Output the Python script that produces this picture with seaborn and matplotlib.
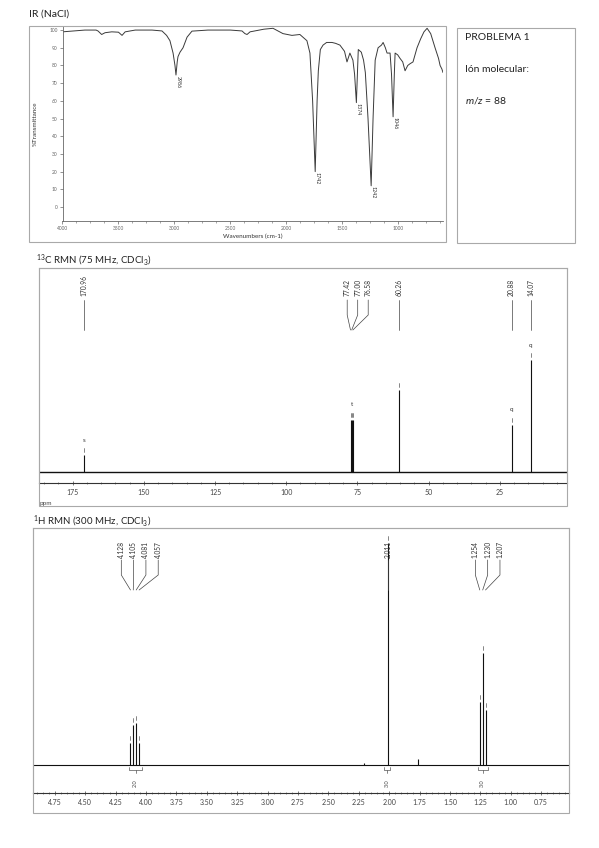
import matplotlib
matplotlib.use("Agg")
import numpy as np
import pandas as pd
import seaborn as sns
import matplotlib.pyplot as plt
from matplotlib.patches import Rectangle
from matplotlib.ticker import MultipleLocator, FormatStrFormatter

# ---------------- data ----------------
# IR spectrum (wavenumber in cm-1, % transmittance)
ir_wavenumber = [4000, 3900, 3800, 3700, 3683, 3650, 3620, 3560, 3500, 3468, 3440, 3350,
                 3200, 3111, 3070, 3040, 3012, 2995, 2986, 2975, 2968, 2950, 2923, 2887,
                 2843, 2700, 2500, 2396, 2370, 2351, 2324, 2200, 2119, 2030, 1950, 1879,
                 1816, 1789, 1765, 1742, 1725, 1714, 1696, 1672, 1640, 1592, 1560, 1521,
                 1480, 1458, 1432, 1405, 1390, 1374, 1365, 1357, 1330, 1310, 1294, 1270,
                 1242, 1225, 1206, 1180, 1150, 1135, 1115, 1100, 1073, 1060, 1046, 1035,
                 1028, 1005, 984, 960, 939, 915, 894, 868, 832, 800, 770, 742, 710, 671,
                 640, 626, 610, 600]
ir_transmittance = [99, 99.5, 100, 100, 99.5, 97.5, 98.5, 99, 98.8, 97, 99, 100,
                    100, 99.5, 97, 94, 87, 80, 74.6, 82, 85, 87.5, 90, 96,
                    99.4, 100, 100, 99.5, 98, 97.5, 99, 100.5, 101, 98, 97, 97.5,
                    94, 87, 60, 20, 60, 77, 89, 91.5, 93, 93, 92.5, 91.5,
                    88, 82, 87, 83, 75, 59, 75, 89, 87.5, 83, 76, 50,
                    12, 50, 83, 90, 91.5, 93, 90, 87, 87, 75, 51, 75,
                    87, 86, 84, 82, 77, 80, 81, 82, 90, 95, 99, 101, 98, 90,
                    84, 80, 78, 76]
ir_peak_wn = [2986, 1742, 1374, 1242, 1046]
ir_peak_t = [74.6, 20, 59, 12, 51]

# 13C NMR sticks (ppm, height)
c13_ppm = [170.96, 77.42, 77.00, 76.58, 60.26, 20.88, 14.07]
c13_height = [17, 52, 52, 52, 82, 47, 112]
c13_groups = [[0], [1, 2, 3], [4], [5], [6]]
c13_mult = ["s", "t", "", "q", "q"]

# 1H NMR sticks (ppm, height)
h1_ppm = [4.128, 4.105, 4.081, 4.057, 2.210, 2.011, 1.760, 1.254, 1.230, 1.207]
h1_height = [22, 40, 42, 22, 2, 222, 6, 63, 112, 55]
h1_groups = [[0, 1, 2, 3], [5], [7, 8, 9]]
h1_int_from = [4.14, 2.04, 1.27]
h1_int_to = [4.03, 1.99, 1.19]
h1_int_value = ["2.0", "3.0", "3.0"]

# ---------------- style ----------------
sns.set_style("white")
plt.rcParams["font.family"] = ["Lato", "DejaVu Sans"]
plt.rcParams["mathtext.fontset"] = "custom"
plt.rcParams["mathtext.rm"] = "Lato"
plt.rcParams["mathtext.it"] = "Lato:italic"

W, H = 599, 848
fig = plt.figure(figsize=(W / 100, H / 100), dpi=100)
fig.patch.set_facecolor("white")


def axes_px(x0, y0, x1, y1):
    return fig.add_axes([x0 / W, 1 - y1 / H, (x1 - x0) / W, (y1 - y0) / H])


def box_px(x0, y0, x1, y1, color="#a9a9a9"):
    fig.add_artist(Rectangle((x0 / W, 1 - y1 / H), (x1 - x0) / W, (y1 - y0) / H,
                             transform=fig.transFigure, fill=False, ec=color, lw=0.8))


def text_px(x, y, s, **kw):
    fig.text(x / W, 1 - y / H, s, **kw)


# ---------------- IR ----------------
box_px(29, 26, 446, 242)
text_px(29, 14, "IR (NaCl)", fontsize=7.5, va="center", ha="left", color="#222")
ax = axes_px(62.5, 26, 443, 221)
ir = pd.DataFrame({"wn": ir_wavenumber, "T": ir_transmittance})
sns.lineplot(data=ir, x="wn", y="T", ax=ax, color="#3a3a3a", lw=0.7, estimator=None)
ax.set_xlim(4000, 600)
ax.set_ylim(-7.9, 102.3)
ax.set_facecolor("white")
for s in ["top", "right"]:
    ax.spines[s].set_visible(False)
for s in ["left", "bottom"]:
    ax.spines[s].set_color("#666")
    ax.spines[s].set_linewidth(0.6)
ax.xaxis.set_minor_locator(MultipleLocator(125))
ax.yaxis.set_major_locator(MultipleLocator(10))
ax.set_xticks([4000, 3500, 3000, 2500, 2000, 1500, 1000])
ax.tick_params(axis="both", which="major", length=2, width=0.5, labelsize=3.5,
               colors="#666", pad=1.5, bottom=True, left=True)
ax.tick_params(axis="x", which="minor", length=1.2, width=0.4, colors="#666", bottom=True)
ax.set_xlabel("Wavenumbers (cm-1)", fontsize=4.5, labelpad=2, color="#333")
ax.set_ylabel("%Transmittance", fontsize=4.5, labelpad=8, color="#333")
for wn, t in zip(ir_peak_wn, ir_peak_t):
    ax.annotate(str(wn), (wn, t), xytext=(1.5, -0.5), textcoords="offset points",
                rotation=270, ha="center", va="top", fontsize=3.8, color="#333")

# ---------------- problem box ----------------
box_px(457, 28, 575, 243)
text_px(465, 38, "PROBLEMA 1", fontsize=7.5, va="center", ha="left", color="#222")
text_px(465, 70, "Ión molecular:", fontsize=7.5, va="center", ha="left", color="#222")
text_px(465, 100, r"$m/z$ = 88", fontsize=7.5, va="center", ha="left", color="#222")


# ---------------- NMR helper ----------------
def nmr_axes(ax, xlim, ylim, major, minor, fmt):
    ax.set_xlim(*xlim)
    ax.set_ylim(*ylim)
    ax.set_yticks([])
    for s in ["top", "left", "right"]:
        ax.spines[s].set_color("#bdbdbd")
        ax.spines[s].set_linewidth(0.8)
    ax.spines["bottom"].set_color("#333")
    ax.spines["bottom"].set_linewidth(0.8)
    ax.xaxis.set_major_locator(MultipleLocator(major))
    ax.xaxis.set_minor_locator(MultipleLocator(minor))
    ax.xaxis.set_major_formatter(FormatStrFormatter(fmt))
    ax.tick_params(axis="x", which="major", length=3, width=0.5, labelsize=5,
                   colors="#444", pad=3, bottom=True, direction="inout")
    ax.tick_params(axis="x", which="minor", length=2, width=0.4, colors="#444",
                   bottom=True, direction="inout")


def nmr_labels(ax, ppm, height, groups, fmt, width_px, y_text, y_top, y_knee, y_bot,
               spread_px, shift_px, fontsize):
    xl = ax.get_xlim()
    ppm_per_px = (xl[0] - xl[1]) / width_px
    for g in groups:
        center = np.mean([ppm[i] for i in g])
        n = len(g)
        for k, i in enumerate(g):
            if n > 1:
                lx = center - ((k - (n - 1) / 2) * spread_px + shift_px) * ppm_per_px
            else:
                lx = ppm[i]
            ax.text(lx, y_text, fmt.format(ppm[i]), rotation=90, ha="center", va="bottom",
                    fontsize=fontsize, color="#333")
            ax.plot([lx, lx, ppm[i]], [y_top, y_knee, y_bot], color="#444", lw=0.5)
            ax.plot([ppm[i], ppm[i]], [height[i] + 3, height[i] + 7], color="#555", lw=0.5)


# ---------------- 13C ----------------
box_px(39, 268, 567, 506)
text_px(36, 260, r"$^{13}$C RMN (75 MHz, CDCl$_3$)", fontsize=7, va="center",
        ha="left", color="#222")
ax = axes_px(39, 268, 567, 483)
nmr_axes(ax, (186.8, 1.4), (-11, 204), 25, 5, "%d")
ax.axhline(0, color="#111", lw=1.0)
ax.vlines(c13_ppm, 0, c13_height, color="#111", lw=0.8)
nmr_labels(ax, c13_ppm, c13_height, c13_groups, "{:.2f}", 528, 176, 172, 157, 142,
           10.5, 6, 4.8)
for g, m in zip(c13_groups, c13_mult):
    top = max(c13_height[i] for i in g)
    ax.text(np.mean([c13_ppm[i] for i in g]), top + 15, m, ha="center", va="center",
            fontsize=4.5, color="#333")
text_px(40, 504, "ppm", fontsize=4.5, va="center", ha="left", color="#444")

# ---------------- 1H ----------------
box_px(33, 528, 569, 813)
text_px(33, 521, r"$^{1}$H RMN (300 MHz, CDCl$_3$)", fontsize=7, va="center",
        ha="left", color="#222")
ax = axes_px(33, 528, 569, 793)
nmr_axes(ax, (4.93, 0.52), (-28, 237), 0.25, 0.05, "%.2f")
ax.axhline(0, color="#111", lw=0.8)
ax.vlines(h1_ppm, 0, h1_height, color="#111", lw=0.8)
nmr_labels(ax, h1_ppm, h1_height, h1_groups, "{:.3f}", 536, 207, 205, 190, 175,
           12.3, 5, 4.8)
for a, b, v in zip(h1_int_from, h1_int_to, h1_int_value):
    ax.plot([a, a, b, b], [-2, -5, -5, -2], color="#555", lw=0.5)
    ax.plot([(a + b) / 2, (a + b) / 2], [-5, -8], color="#555", lw=0.5)
    ax.text((a + b) / 2, -18, v, rotation=90, ha="center", va="center",
            fontsize=4, color="#444")

fig.savefig("out.png", dpi=100, facecolor="white")
